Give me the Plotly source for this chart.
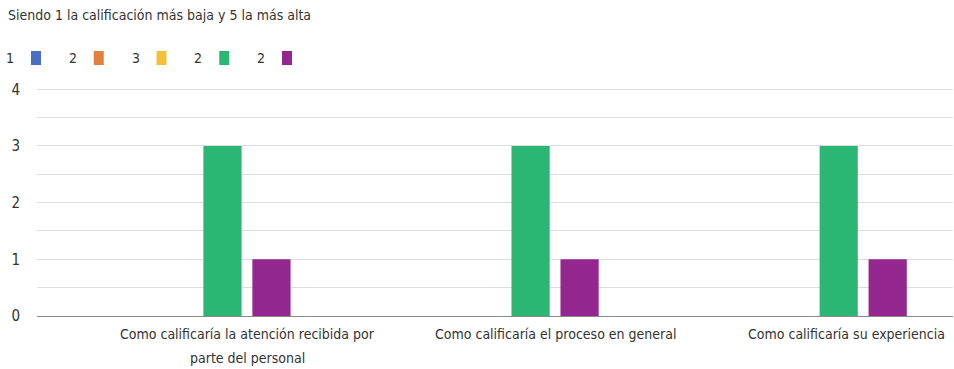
import plotly.graph_objects as go

# ---- data ----
title_text = "Siendo 1 la calificación más baja y 5 la más alta"
categories = [
    "Como calificaría la atención recibida por<br>parte del personal",
    "Como calificaría el proceso en general",
    "Como calificaría su experiencia",
]
series_names = ["1", "2", "3", "2", "2"]
series_values = [
    [0, 0, 0],
    [0, 0, 0],
    [0, 0, 0],
    [3, 3, 3],
    [1, 1, 1],
]
series_colors = ["#4a6fc0", "#e0823e", "#f4c03a", "#2bb673", "#93278f"]
y_ticks = [0, 1, 2, 3, 4]

FONT = "Liberation Sans Narrow, Arial Narrow, DejaVu Sans Condensed, Roboto, sans-serif"
FS = 14
W, H = 954, 369
ML, MR, MT, MB = 37, 1, 87, 53
PW = W - ML - MR
PH = H - MT - MB

x_idx = list(range(len(categories)))

fig = go.Figure()
for name, vals, col in zip(series_names, series_values, series_colors):
    fig.add_trace(go.Bar(
        x=x_idx, y=vals, name=name,
        marker=dict(color=col, line=dict(width=0)),
        showlegend=False, hoverinfo="y",
    ))


def px_to_paper_x(px):
    return (px - ML) / PW


def px_to_paper_y(py):
    return (H - MB - py) / PH


annotations = []
shapes = []

# custom legend: label then colour square
for i, (name, col) in enumerate(zip(series_names, series_colors)):
    sq_left = 31 + i * 62.75
    shapes.append(dict(
        type="rect", xref="paper", yref="paper",
        x0=px_to_paper_x(sq_left), x1=px_to_paper_x(sq_left + 10),
        y0=px_to_paper_y(65), y1=px_to_paper_y(51),
        fillcolor=col, line=dict(width=0), layer="above",
    ))
    annotations.append(dict(
        text=name, xref="paper", yref="paper",
        x=px_to_paper_x(sq_left - 15), y=px_to_paper_y(57.5),
        xanchor="right", yanchor="middle", showarrow=False,
        font=dict(family=FONT, size=FS, color="#333333"),
    ))

# category labels (centred under the visible bar pair; last one kept inside)
pair_offset = 0.2386
for i, cat in enumerate(categories):
    for j, line in enumerate(cat.split("<br>")):
        if i == len(categories) - 1:
            ann = dict(x=px_to_paper_x(947), xref="paper", xanchor="right")
        else:
            ann = dict(x=i + pair_offset, xref="x", xanchor="center")
        ann.update(dict(
            text=line, yref="paper", y=0, yanchor="top", yshift=-8 - 24 * j,
            showarrow=False, align="center",
            font=dict(family=FONT, size=FS, color="#333333"),
        ))
        annotations.append(ann)

fig.update_layout(
    width=W, height=H,
    margin=dict(l=ML, r=MR, t=MT, b=MB, pad=0),
    paper_bgcolor="white", plot_bgcolor="white",
    barmode="group", bargap=0.205, bargroupgap=0.22,
    title=dict(
        text=title_text, x=8 / W, xanchor="left", xref="container",
        y=1 - 15 / H, yanchor="middle", yref="container",
        font=dict(family=FONT, size=FS, color="#333333"),
    ),
    font=dict(family=FONT, size=FS, color="#333333"),
    annotations=annotations,
    shapes=shapes,
    xaxis=dict(
        range=[-0.443, 2.530], showticklabels=False, showgrid=False,
        zeroline=False, showline=False, ticks="", fixedrange=True,
    ),
    yaxis=dict(
        range=[0, 4.04], tickvals=y_ticks, showgrid=True, gridcolor="#dddddd",
        gridwidth=1, zeroline=True, zerolinecolor="#8a8a8a", zerolinewidth=1,
        showline=False, ticks="", ticklabelstandoff=16,
        tickfont=dict(family=FONT, size=15, color="#333333"),
        minor=dict(dtick=0.5, showgrid=True, gridcolor="#dddddd", gridwidth=1),
    ),
)

fig.write_html(
    "out.html",
    config={"displayModeBar": False},
    post_script="document.body.style.margin='0';document.body.style.padding='0';",
)
